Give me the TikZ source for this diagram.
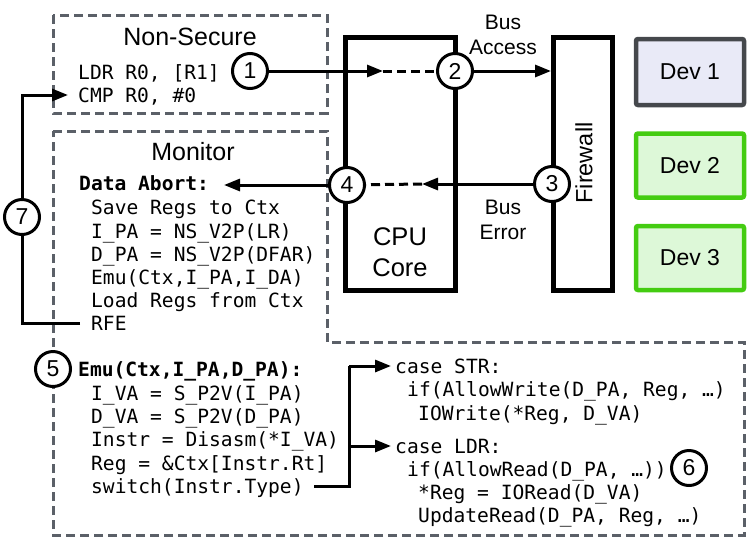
\documentclass[tikz,border=0pt]{standalone}
\usepackage{fontspec}
\setmainfont{Liberation Sans}
\newfontfamily\codefont{DejaVu Sans Mono}
\usetikzlibrary{arrows.meta}
\definecolor{dgray}{HTML}{5B6068}
\definecolor{devgray}{HTML}{45484C}
\definecolor{devfill}{HTML}{E9EAF7}
\definecolor{grn}{HTML}{44CC11}
\definecolor{grnfill}{HTML}{DDF8D8}
\begin{document}
\begin{tikzpicture}[x=1pt,y=-1pt,
  code/.style={font=\codefont\fontsize{19.6}{23}\selectfont, inner sep=0pt, anchor=base west},
  codeb/.style={font=\codefont\bfseries\fontsize{19.6}{23}\selectfont, inner sep=0pt, anchor=base west},
  title/.style={font=\fontsize{25}{28}\selectfont, inner sep=0pt},
  lbl/.style={font=\fontsize{21}{25}\selectfont, align=center, inner sep=0pt},
  regionbox/.style={draw=dgray, line width=3pt, dash pattern=on 9pt off 5pt},
  numc/.style={circle, draw, line width=3pt, fill=white, minimum size=35pt, inner sep=0pt, font=\fontsize{23}{23}\selectfont},
  conn/.style={line width=3pt, -{Triangle[length=16pt,width=12pt]}},
  dconn/.style={line width=3pt, dash pattern=on 9pt off 5pt},
  hw/.style={draw, line width=5pt, inner sep=0pt},
  dev1/.style={draw=devgray, fill=devfill, line width=4.5pt, rounded corners=2pt, minimum width=108pt, minimum height=66pt, font=\fontsize{23}{23}\selectfont},
  devg/.style={draw=grn, fill=grnfill, line width=4.5pt, rounded corners=2pt, minimum width=108pt, minimum height=64pt, font=\fontsize{23}{23}\selectfont}
]
\useasboundingbox (0,0) rectangle (747,539);

% dashed regions
\draw[regionbox] (53,15) rectangle (327,113);
\draw[regionbox] (53,131) -- (327,131) -- (327,342) -- (744,342) -- (744,535) -- (53,535) -- cycle;

% hardware boxes
\node[hw, minimum width=110pt, minimum height=253pt] (cpu) at (400,164) {};
\node[hw, minimum width=59pt, minimum height=253pt] (fw) at (583,164) {};
\node[lbl, font=\fontsize{25.5}{31}\selectfont] (cpulbl) at (400,252) {CPU\\Core};
\node[lbl, font=\fontsize{23.5}{23.5}\selectfont, rotate=90] (fwlbl) at (584,163) {Firewall};

\node[dev1] (d1) at (690,72) {Dev 1};
\node[devg] (d2) at (690,165.5) {Dev 2};
\node[devg] (d3) at (690,258) {Dev 3};

% titles
\node[title] (nstitle) at (190,37) {Non-Secure};
\node[title] (montitle) at (193,152) {Monitor};

% Non-secure code
\node[code] (ldr) at (78,79) {LDR R0, [R1]};
\node[code] (cmp) at (78,102) {CMP R0, \#0};

% Monitor code
\node[codeb] (da) at (79,190) {Data Abort:};
\node[code] (m1) at (91,214) {Save Regs to Ctx};
\node[code] (m2) at (91,238) {I\_PA = NS\_V2P(LR)};
\node[code] (m3) at (91,261) {D\_PA = NS\_V2P(DFAR)};
\node[code] (m4) at (91,284) {Emu(Ctx,I\_PA,I\_DA)};
\node[code] (m5) at (91,307) {Load Regs from Ctx};
\node[code] (rfe) at (91,330) {RFE};

% Emu code
\node[codeb] (emu) at (78,376) {Emu(Ctx,I\_PA,D\_PA):};
\node[code] (e1) at (91,400) {I\_VA = S\_P2V(I\_PA)};
\node[code] (e2) at (91,423) {D\_VA = S\_P2V(D\_PA)};
\node[code] (e3) at (91,446) {Instr = Disasm(*I\_VA)};
\node[code] (e4) at (91,470) {Reg = \&Ctx[Instr.Rt]};
\node[code] (sw) at (91,493) {switch(Instr.Type)};

% cases
\node[code] (cstr) at (395,373) {case STR:};
\node[code] (s1) at (407,396) {if(AllowWrite(D\_PA, Reg, …)};
\node[code] (s2) at (418,420) {IOWrite(*Reg, D\_VA)};
\node[code] (cldr) at (395,453) {case LDR:};
\node[code] (l1) at (407,476) {if(AllowRead(D\_PA, …))};
\node[code] (l2) at (418,499) {*Reg = IORead(D\_VA)};
\node[code] (l3) at (418,522) {UpdateRead(D\_PA, Reg, …)};

% bus labels
\node[lbl] (busacc) at (503,35) {Bus\\Access};
\node[lbl] (buserr) at (503,220) {Bus\\Error};

% numbered circles
\node[numc] (c1) at (250,71) {1};
\node[numc] (c2) at (455,71) {2};
\node[numc] (c3) at (552,184) {3};
\node[numc] (c4) at (347,185) {4};
\node[numc] (c5) at (53,369) {5};
\node[numc] (c6) at (689,468) {6};

% connectors
\coordinate (a1) at (383,71);
\coordinate (a3) at (422,184);
\coordinate (a4) at (224,185);
\draw[conn] (c1) -- (a1);
\draw[dconn] (a1) -- (c2);
\draw[conn] (c2) -- (c2 -| fw.west);
\draw[conn] (c3) -- (a3);
\draw[dconn] (a3) -- (c4);
\draw[conn] (c4) -- (a4);

% loop 7
\coordinate (l7s) at (80,323);
\coordinate (l7b) at (22,323);
\coordinate (l7t) at (22,95);
\coordinate (l7e) at (68,95);
\draw[conn] (l7s) -- (l7b) -- (l7t) -- (l7e);
\node[numc] (c7) at (22,217) {7};

% switch branches
\coordinate (sws) at (314,486);
\coordinate (swj) at (349,486);
\coordinate (swt) at (349,366);
\coordinate (swm) at (349,446);
\draw[line width=3pt] (sws) -- (swj) -- (swt);
\draw[conn] (swt) -- (391,366);
\draw[conn] (swm) -- (391,446);
\end{tikzpicture}
\end{document}
